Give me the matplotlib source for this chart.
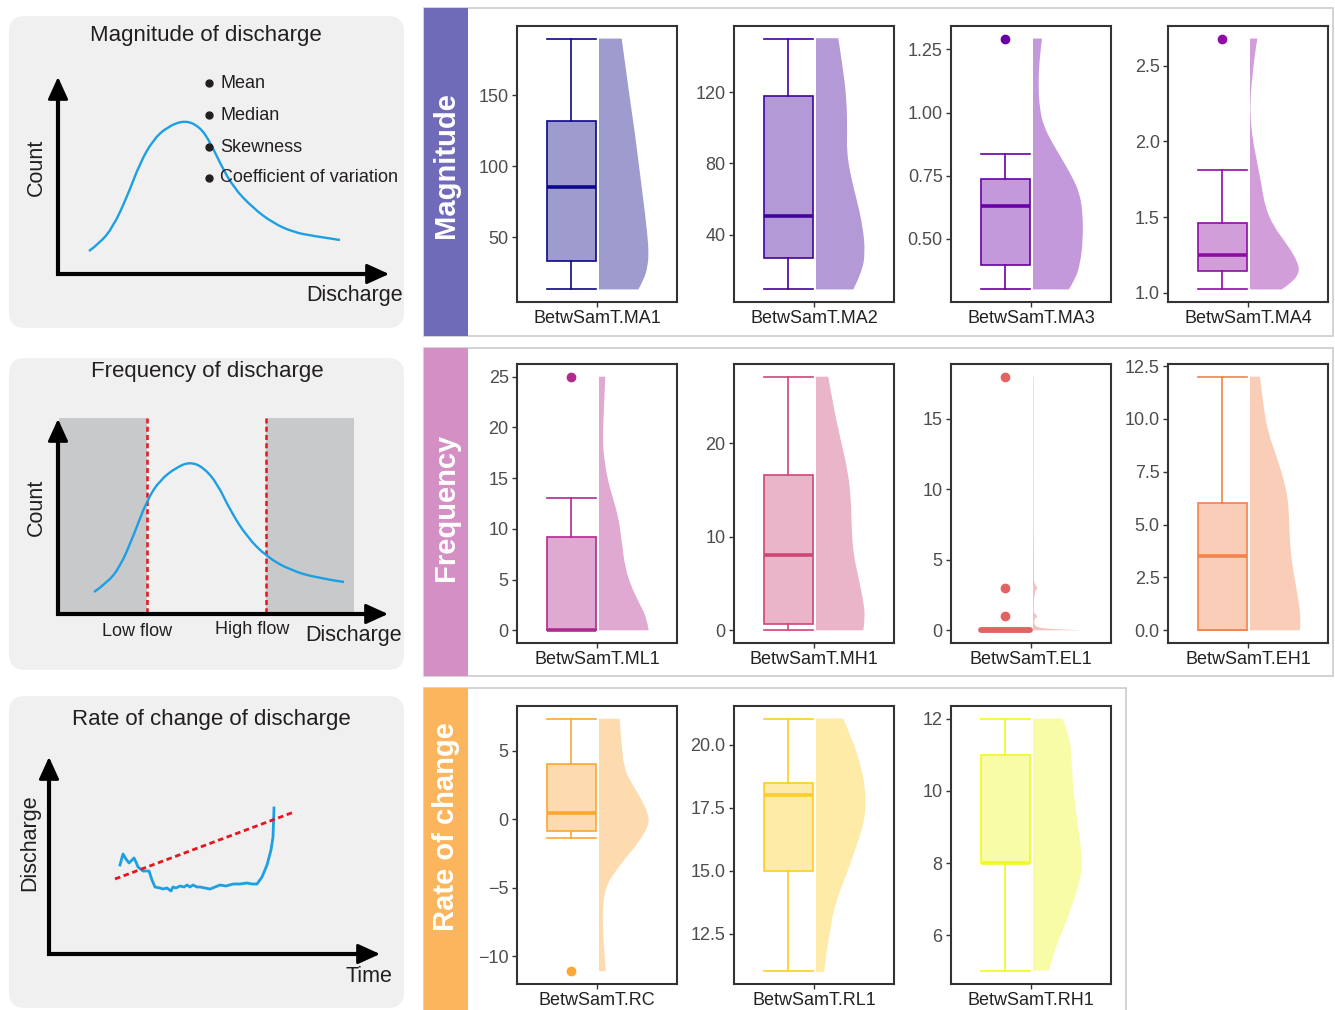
import numpy as np
import matplotlib
matplotlib.use('Agg')
import matplotlib.pyplot as plt
from matplotlib.patches import FancyBboxPatch, Rectangle, PathPatch
from matplotlib.path import Path
from matplotlib.colors import to_rgba

plt.rcParams['font.family'] = ['Liberation Sans', 'DejaVu Sans']

W, H = 1335, 1010

# ---- box plot data ----
labels = ['BetwSamT.MA1', 'BetwSamT.MA2', 'BetwSamT.MA3', 'BetwSamT.MA4',
          'BetwSamT.ML1', 'BetwSamT.MH1', 'BetwSamT.EL1', 'BetwSamT.EH1',
          'BetwSamT.RC', 'BetwSamT.RL1', 'BetwSamT.RH1']
colors = ['#0d0887', '#41049d', '#6a00a8', '#8f0da4', '#b12a90', '#cc4778',
          '#e16462', '#f2844b', '#fca636', '#fcce25', '#f0f921']
whislo = [13, 9.3, 0.30, 1.022, 0, 0, 0, 0, -1.39, 11.0, 5.0]
q1 = [33, 27, 0.396, 1.142, 0, 0.7, 0, 0, -0.84, 15.0, 8.0]
med = [85, 50.6, 0.629, 1.25, 0, 8.0, 0, 3.5, 0.44, 18.0, 8.0]
q3 = [132, 118, 0.737, 1.46, 9.2, 16.6, 0, 6.0, 4.05, 18.5, 11.0]
whishi = [190, 150, 0.837, 1.814, 13, 27.1, 0, 12.0, 7.35, 21.04, 12.0]
fliers = [[], [], [1.293], [2.68], [25], [], [1, 3, 18], [], [-11.12], [], []]

yticks = [[50, 100, 150], [40, 80, 120], [0.50, 0.75, 1.00, 1.25], [1.0, 1.5, 2.0, 2.5],
          [0, 5, 10, 15, 20, 25], [0, 10, 20], [0, 5, 10, 15],
          [0.0, 2.5, 5.0, 7.5, 10.0, 12.5], [-10, -5, 0, 5],
          [12.5, 15.0, 17.5, 20.0], [6, 8, 10, 12]]
yticklabels = [['50', '100', '150'], ['40', '80', '120'], ['0.50', '0.75', '1.00', '1.25'],
               ['1.0', '1.5', '2.0', '2.5'], ['0', '5', '10', '15', '20', '25'],
               ['0', '10', '20'], ['0', '5', '10', '15'],
               ['0.0', '2.5', '5.0', '7.5', '10.0', '12.5'], ['\u221210', '\u22125', '0', '5'],
               ['12.5', '15.0', '17.5', '20.0'], ['6', '8', '10', '12']]

# half-violin profiles: y levels and half widths (px, max ~50)
vio_y = [
    [13, 20, 29.4, 38.8, 52.8, 76.6, 100, 123, 146.5, 190],
    [9.3, 18.7, 29.9, 44.8, 59.7, 74.6, 87.7, 97, 115.7, 134.4, 150.2],
    [0.30, 0.339, 0.405, 0.497, 0.602, 0.681, 0.747, 0.816, 0.882, 0.947, 1.013, 1.116, 1.221, 1.293],
    [1.022, 1.066, 1.132, 1.197, 1.309, 1.441, 1.572, 1.704, 1.879, 2.011, 2.164, 2.318, 2.45, 2.581, 2.68],
    [0, 1.23, 2.55, 4.2, 6.2, 8.84, 11.2, 13.1, 15, 17.1, 18.8, 22.1, 25],
    [0, 1.33, 3.12, 5.28, 8.15, 11.0, 13.9, 16.77, 20.36, 23.95, 27.1],
    [0, 0.05, 0.12, 0.25, 0.5, 0.85, 1.0, 1.15, 1.5, 2.8, 3.0, 3.2, 4, 18],
    [0, 0.43, 1.22, 2.33, 3.61, 4.88, 6.15, 7.1, 8.21, 9.32, 10.6, 12.0],
    [-11.1, -9.8, -8.34, -6.39, -4.93, -3.95, -2.98, -2.0, -1.02, -0.29, 0.44, 1.66, 2.88, 3.85, 5.32, 7.34],
    [10.97, 11.67, 12.47, 13.27, 14.07, 15.0, 15.93, 16.73, 17.53, 18.33, 19.27, 20.2, 21.04],
    [5.02, 5.7, 6.25, 6.8, 7.36, 7.91, 8.28, 8.93, 9.57, 10.31, 10.96, 11.51, 12],
]
vio_w = [
    [39.3, 45, 48.7, 49.7, 48.3, 44.3, 40, 36, 31, 22.7],
    [37.3, 45.7, 49.3, 46.7, 40.7, 34, 30.7, 31.3, 30.7, 26.7, 22.3],
    [35.7, 42.3, 47.3, 50, 49.7, 46.7, 39, 29, 19, 10.7, 6.7, 5.3, 6.7, 9],
    [31.7, 41.7, 49.3, 48.3, 38.3, 23.3, 15, 11.7, 6.7, 2.7, 0.3, 0.7, 2.7, 5, 7.3],
    [49.7, 47.7, 41, 32.7, 26, 22.7, 19.3, 13.7, 8.3, 5, 3.7, 5, 6.3],
    [47.3, 49.3, 47.3, 43.3, 37.3, 35.7, 35, 32.3, 24.7, 17.3, 12.3],
    [51, 30, 12, 3, 1, 1.5, 5.5, 1.5, 0.5, 1.5, 5.5, 1.5, 0.5, 0.5],
    [50, 50.7, 49.3, 45, 40.7, 39.3, 38.3, 34, 26.7, 18.3, 13.3, 10],
    [6.8, 5.5, 4.1, 3.6, 6.8, 15, 25, 36.4, 45.5, 50, 49.1, 40.9, 30.5, 25, 22.7, 20.5],
    [8.2, 10, 13.6, 16.8, 22.7, 31.8, 40, 46.8, 50, 49.1, 44.1, 36.4, 27.3],
    [15.9, 22.7, 31.8, 38.6, 45.5, 49.5, 48.6, 45.5, 42.3, 39.5, 38.6, 36.4, 29.5],
]

row_names = ['Magnitude', 'Frequency', 'Rate of change']
strip_colors = ['#6f6bb8', '#d48fc4', '#fbb55c']

# ---- schematic sketch curves (sketch pixel units) ----
mag_x = [89, 100, 113, 127, 140, 153, 167, 185, 200, 210, 220, 233, 253, 273, 293, 313, 340]
mag_y = [251, 243, 227, 197, 163, 140, 127, 120, 127, 142, 163, 187, 208, 223, 232, 236, 240]
freq_x = [94, 107, 120, 133, 147, 160, 177, 190, 203, 217, 230, 247, 267, 290, 317, 344]
freq_y = [592, 583, 567, 537, 500, 480, 467, 462, 467, 483, 510, 537, 557, 570, 578, 582]
rate_x = [120, 123, 126, 129, 134, 136, 138, 143, 149, 152, 155, 160, 163, 167, 171, 173, 176, 180,
          184, 187, 190, 193, 197, 200, 205, 210, 215, 220, 226, 233, 240, 247, 252, 257, 262,
          267, 271, 273, 273.5, 274]
rate_y = [865, 854, 859, 863, 858, 862, 867, 871, 871, 880, 887, 888, 889, 888, 891, 887, 888, 886,
          887, 885, 887, 885, 887, 887, 888, 889, 887, 885, 886, 884, 884, 883, 884, 884, 877,
          865, 850, 837, 823, 808]
trend_x = [115, 294]
trend_y = [879, 812]


def smooth_path(xs, ys):
    # quadratic bezier through the read points (points used as control points)
    pts = list(zip(xs, ys))
    verts = [pts[0]]
    codes = [Path.MOVETO]
    for k in range(1, len(pts) - 1):
        mid = ((pts[k][0] + pts[k + 1][0]) / 2, (pts[k][1] + pts[k + 1][1]) / 2)
        if k == len(pts) - 2:
            mid = pts[k + 1]
        verts += [pts[k], mid]
        codes += [Path.CURVE3, Path.CURVE3]
    if len(pts) == 2:
        verts.append(pts[1])
        codes.append(Path.LINETO)
    return verts, codes


fig = plt.figure(figsize=(W / 100, H / 100), dpi=100)
bg = fig.add_axes([0, 0, 1, 1])
bg.set_xlim(0, W)
bg.set_ylim(H, 0)
bg.axis('off')

ink = '#231f20'
blue = '#1c9fe3'
red = '#e8141e'

# left schematic panels
for top in [16, 358, 696]:
    bg.add_patch(FancyBboxPatch((9, top), 395, 312, boxstyle='round,pad=0,rounding_size=16',
                                fc='#f0f0f0', ec='none', zorder=0))


def arrows(x0, y0, ytip, xtip):
    bg.plot([x0, x0, xtip - 12], [ytip + 12, y0, y0], color='k', lw=3,
            solid_joinstyle='miter', solid_capstyle='butt', zorder=5)
    st = '-|>,head_length=0.55,head_width=0.25'
    bg.annotate('', xy=(x0, ytip), xytext=(x0, ytip + 22),
                arrowprops=dict(arrowstyle=st, color='k', lw=2, mutation_scale=25,
                                shrinkA=0, shrinkB=0), zorder=5)
    bg.annotate('', xy=(xtip, y0), xytext=(xtip - 22, y0),
                arrowprops=dict(arrowstyle=st, color='k', lw=2, mutation_scale=25,
                                shrinkA=0, shrinkB=0), zorder=5)


def curve(xs, ys, **kw):
    v, c = smooth_path(xs, ys)
    bg.add_patch(PathPatch(Path(v, c), fill=False, **kw))


# panel 1
bg.text(206, 36, 'Magnitude of discharge', ha='center', va='center', fontsize=16, color=ink)
curve(mag_x, mag_y, ec=blue, lw=1.7, zorder=3)
arrows(58, 274, 77, 389)
for yy, s in zip([83, 115, 147, 178], ['Mean', 'Median', 'Skewness', 'Coefficient of variation']):
    bg.plot(209, yy, 'o', ms=5, color=ink, zorder=4)
    bg.text(220, yy, s, ha='left', va='center', fontsize=13, color=ink, zorder=4)
bg.text(36, 167, 'Count', rotation=90, ha='center', va='center', fontsize=15.5, color=ink)
bg.text(355, 296, 'Discharge', ha='center', va='center', fontsize=15.5, color=ink)

# panel 2
bg.text(207, 371, 'Frequency of discharge', ha='center', va='center', fontsize=16, color=ink)
bg.add_patch(Rectangle((59, 418), 88, 196, fc='#c8c9cb', ec='none', zorder=1))
bg.add_patch(Rectangle((266, 418), 88, 196, fc='#c8c9cb', ec='none', zorder=1))
for xx in [147, 266]:
    bg.plot([xx, xx], [418, 612], color=red, lw=1.8, dashes=(2, 1.3), zorder=2)
curve(freq_x, freq_y, ec=blue, lw=1.7, zorder=3)
arrows(58, 614, 419, 388)
bg.text(36, 507, 'Count', rotation=90, ha='center', va='center', fontsize=15.5, color=ink)
bg.text(137, 632, 'Low flow', ha='center', va='center', fontsize=13, color=ink)
bg.text(252, 629, 'High flow', ha='center', va='center', fontsize=13, color=ink)
bg.text(354, 635, 'Discharge', ha='center', va='center', fontsize=15.5, color=ink)

# panel 3
bg.text(211, 719, 'Rate of change of discharge', ha='center', va='center', fontsize=16, color=ink)
bg.plot(rate_x, rate_y, color=blue, lw=2, zorder=3)
bg.plot(trend_x, trend_y, color=red, lw=2, dashes=(2, 1.3), zorder=3)
arrows(49, 954, 757, 380)
bg.text(30, 843, 'Discharge', rotation=90, ha='center', va='center', fontsize=15.5, color=ink)
bg.text(369, 977, 'Time', ha='center', va='center', fontsize=15.5, color=ink)

# right row frames and strips
frames = [(8, 909, 328), (348, 909, 328), (688, 702, 340)]
strip_text_y = [165, 507, 827]
for (top, wd, ht), name, sc, ty in zip(frames, row_names, strip_colors, strip_text_y):
    bg.add_patch(Rectangle((424, top), wd, ht, fc='white', ec='#cccccc', lw=1.2, zorder=1))
    bg.add_patch(Rectangle((424, top), 44, ht, fc=sc, ec='none', zorder=2))
    bg.text(446, ty, name, rotation=90, ha='center', va='center', fontsize=21,
            fontweight='bold', color='white', zorder=3)

cols_x = [(517, 677), (734, 894), (951, 1111), (1168, 1328)]
rows_y = [(26, 302), (364, 643), (706, 984)]

BOX_POS = -0.319
BOX_W = 0.6125
V0 = 0.025

for i in range(len(labels)):
    r = 0 if i < 4 else (1 if i < 8 else 2)
    c = i % 4 if i < 8 else i - 8
    x0, x1 = cols_x[c]
    y0, y1 = rows_y[r]
    ax = fig.add_axes([x0 / W, 1 - y1 / H, (x1 - x0) / W, (y1 - y0) / H])
    col = colors[i]
    fill = to_rgba(col, 0.4)
    flat = q1[i] == q3[i]
    stats = [dict(med=med[i], q1=q1[i], q3=q3[i], whislo=whislo[i], whishi=whishi[i],
                  fliers=fliers[i])]
    ax.bxp(stats, positions=[BOX_POS], widths=BOX_W, capwidths=BOX_W, patch_artist=True,
           manage_ticks=False,
           boxprops=dict(facecolor=fill, edgecolor=col, linewidth=1.2),
           medianprops=dict(color=col, linewidth=4.2 if flat else 2.6,
                            solid_capstyle='round' if flat else 'butt'),
           whiskerprops=dict(color=col, linewidth=1.2),
           capprops=dict(color=col, linewidth=1.2),
           flierprops=dict(marker='o', markerfacecolor=col, markeredgecolor=col, markersize=6))
    # half violin: straight edge along V0, smooth outer profile
    vy = list(vio_y[i])
    vx = [V0 + w / 80.0 for w in vio_w[i]]
    outer_v, outer_c = smooth_path(vx[::-1], vy[::-1])
    verts = [(V0, vy[0]), (V0, vy[-1])] + [outer_v[0]] + outer_v[1:] + [(V0, vy[0])]
    codes = [Path.MOVETO, Path.LINETO, Path.LINETO] + outer_c[1:] + [Path.LINETO]
    ax.add_patch(PathPatch(Path(verts, codes), fc=fill, ec='none', lw=0))
    lo = min([whislo[i]] + fliers[i])
    hi = max([whishi[i]] + fliers[i])
    pad = (hi - lo) * 0.05
    ax.set_ylim(lo - pad, hi + pad)
    ax.set_xlim(-1, 1)
    ax.set_xticks([0])
    ax.set_xticklabels([labels[i]], fontsize=13, color='#222222')
    ax.set_yticks(yticks[i])
    ax.set_yticklabels(yticklabels[i], fontsize=13, color='#4d4d4d')
    ax.tick_params(length=3.5, width=1, color='#333333', pad=2.5)
    for sp in ax.spines.values():
        sp.set_color('#333333')
        sp.set_linewidth(1.5)

fig.savefig('out.png', dpi=100)
